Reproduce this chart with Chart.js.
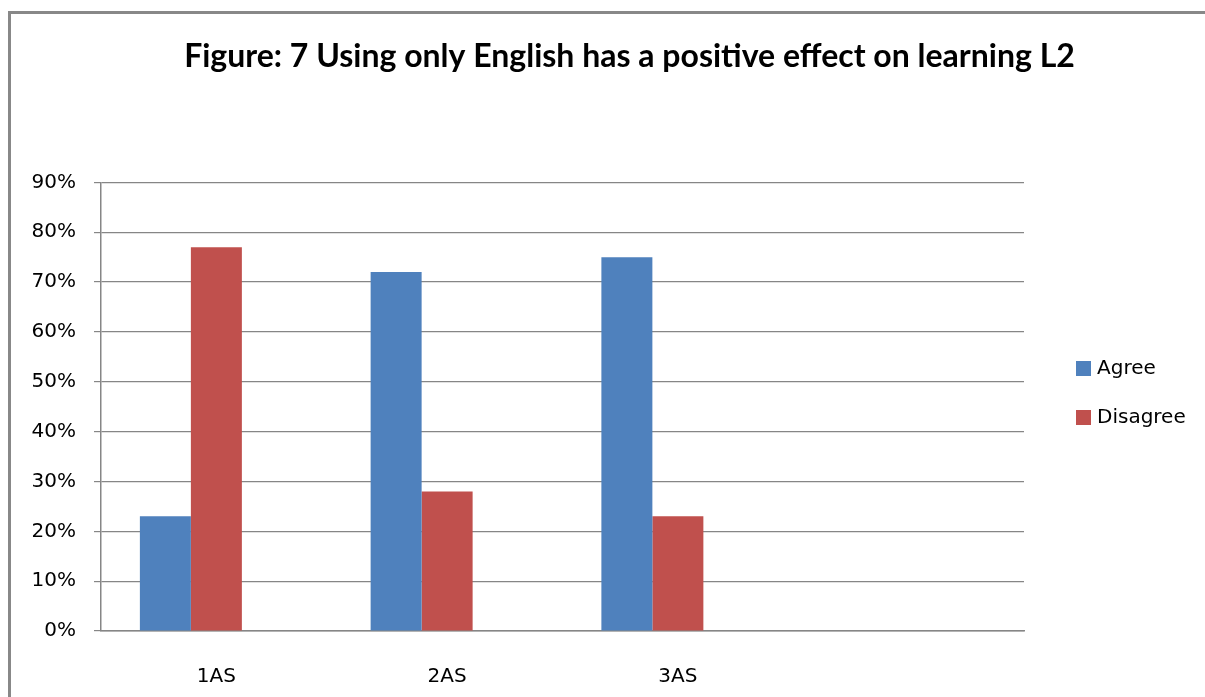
<!DOCTYPE html>
<html>
<head>
<meta charset="utf-8">
<script src="https://cdn.jsdelivr.net/npm/chart.js@4/dist/chart.umd.min.js"></script>
<style>
  body { margin: 0; background: #fff; }
  #frame { position: absolute; left: 8px; top: 11px; width: 1200px; height: 690px;
           border-top: 3px solid #888; border-left: 3px solid #888; }
  #myChart { position: absolute; left: 0; top: 0; }
</style>
</head>
<body>
<div id="frame"></div>
<canvas id="myChart" width="1205" height="697"></canvas>
<script>
// values (percent)
const categories = ['1AS', '2AS', '3AS', ''];
const agree = [23, 72, 75, null];
const disagree = [77, 28, 23, null];
const blank = [null, null, null, null]; // empty third series in the source sheet
const yMax = 90;
const yStep = 10;

const blue = '#4F81BD';
const red = '#C0504D';
const gridColor = '#868686';
const labelFont = { family: 'DejaVu Sans', size: 20 };

// legend drawn at the right of the plot, like the Excel one
const sideLegend = {
    id: 'sideLegend',
    afterDraw(chart) {
        const ctx = chart.ctx;
        const x = chart.chartArea.right + 52;
        let y = 368;
        ctx.save();
        ctx.font = labelFont.size + 'px ' + labelFont.family;
        ctx.textBaseline = 'middle';
        chart.data.datasets.forEach(ds => {
            if (!ds.label) return;
            ctx.fillStyle = ds.backgroundColor;
            ctx.fillRect(x, y - 7, 15, 15);
            ctx.fillStyle = '#000';
            ctx.fillText(ds.label, x + 21, y + 1);
            y += 49;
        });
        ctx.restore();
    }
};

const ctx = document.getElementById('myChart').getContext('2d');
const myChart = new Chart(ctx, {
    type: 'bar',
    data: {
        labels: categories,
        datasets: [
            { label: 'Agree', data: agree, backgroundColor: blue },
            { label: 'Disagree', data: disagree, backgroundColor: red },
            { label: '', data: blank, backgroundColor: 'transparent' }
        ]
    },
    options: {
        responsive: false,
        animation: false,
        // negative right padding keeps the title centred where the original has it
        layout: { padding: { left: 20, right: -34, top: 0, bottom: 0 } },
        datasets: {
            bar: { categoryPercentage: 0.663, barPercentage: 1.0 }
        },
        plugins: {
            legend: { display: false },
            tooltip: { enabled: false },
            title: {
                display: true,
                text: 'Figure: 7 Using only English has a positive effect on learning L2',
                color: '#000',
                font: { family: 'Lato', size: 32, weight: 'bold', lineHeight: 1.2 },
                padding: { top: 37, bottom: 107 }
            }
        },
        scales: {
            x: {
                grid: { display: false, drawTicks: false },
                border: { display: true, color: gridColor, width: 1.5 },
                ticks: { color: '#000', font: labelFont, padding: 34 },
                afterFit: s => { s.height = 66; }
            },
            y: {
                min: 0,
                max: yMax,
                ticks: {
                    stepSize: yStep,
                    color: '#000',
                    font: labelFont,
                    padding: 18,
                    callback: v => v + '%'
                },
                grid: { color: gridColor, lineWidth: 1.2, tickLength: 7, drawTicks: true },
                border: { display: true, color: gridColor, width: 1.5 },
                afterFit: s => { s.width = 81; }
            },
            spacer: {
                position: 'right',
                display: true,
                grid: { display: false },
                border: { display: false },
                ticks: { display: false },
                afterFit: s => { s.width = 215; }
            }
        }
    },
    plugins: [sideLegend]
});
</script>
</body>
</html>
